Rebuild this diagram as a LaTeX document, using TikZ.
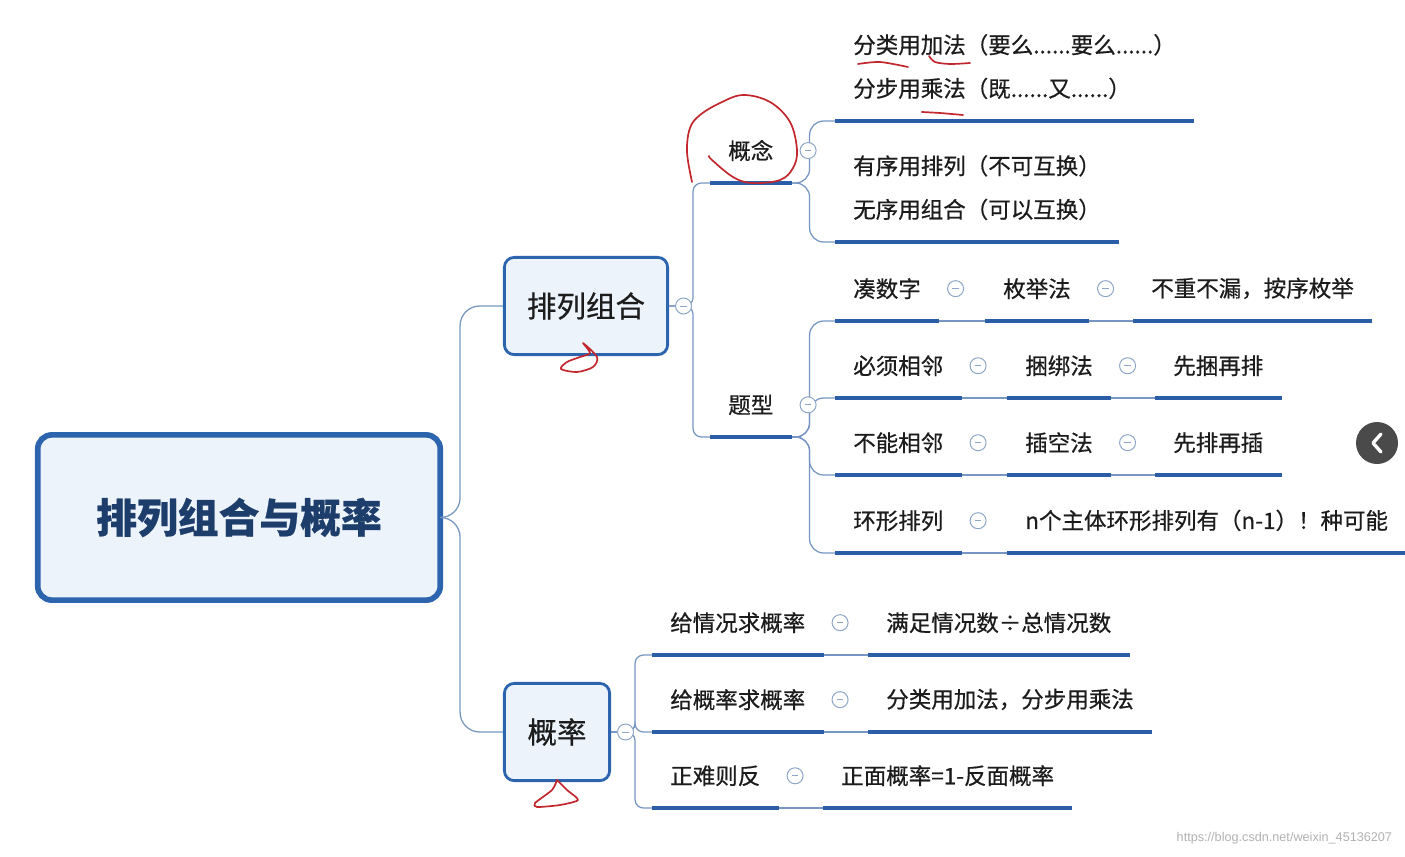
\documentclass[tikz,border=0pt]{standalone}
\usepackage{fontspec}
\setmainfont{Noto Sans CJK SC}[FakeBold=0.6]
\setsansfont{Liberation Sans}
\usetikzlibrary{calc,positioning}
\definecolor{ink}{HTML}{1C1C1C}
\definecolor{navy}{HTML}{1D3D6B}
\definecolor{frame}{HTML}{2C64AE}
\definecolor{wash}{HTML}{EDF3FA}
\definecolor{barblue}{HTML}{2B5EA6}
\definecolor{twigblue}{HTML}{7797C2}
\definecolor{foldgray}{HTML}{8DA6C8}
\definecolor{redpen}{HTML}{C1272D}
\definecolor{btngray}{HTML}{4A4A4A}
\tikzset{
  rootbox/.style={
    draw=frame,fill=wash,rounded corners=10pt,line width=4pt,
    minimum width=10.06cm,minimum height=4.13cm,inner sep=0pt,
    font=\bfseries\fontsize{29}{34}\selectfont,text=navy
  },
  subbox/.style={
    draw=frame,fill=wash,rounded corners=7pt,line width=2pt,
    minimum height=2.43cm,inner sep=0pt,
    font=\fontsize{21}{25}\selectfont,text=ink
  },
  topic/.style={
    anchor=south west,inner xsep=0.45cm,inner ysep=0.54cm,align=left,
    font=\fontsize{16}{31}\selectfont,text=ink
  },
  fold/.style={
    circle,draw=foldgray,fill=white,line width=0.7pt,
    minimum size=0.4cm,inner sep=0pt,
    path picture={\draw[foldgray,line width=0.7pt]
      ([xshift=-2.2pt]path picture bounding box.center) --
      ([xshift=2.2pt]path picture bounding box.center);}
  },
  bar/.style={draw=barblue,line width=3.5pt},
  twig/.style={draw=twigblue,line width=0.9pt,rounded corners=10pt},
  pen/.style={draw=redpen,line width=1.2pt,line cap=round,line join=round}
}
\begin{document}
\begin{tikzpicture}[x=0.025cm,y=-0.025cm]
\useasboundingbox[fill=white] (0,0) rectangle (1405,856);

\node[rootbox] (root) at (239,517.5) {排列组合与概率};
\node[subbox,minimum width=4.08cm] (pl) at (586,306) {排列组合};
\node[subbox,minimum width=2.63cm] (gl) at (557,732) {概率};

\node[topic] (gn) at (710,183) {概念};
\node[topic] (tx) at (710,437) {题型};

\node[topic] (c1) at (835,121) {分类用加法（要么......要么......）\\分步用乘法（既......又......）};
\node[topic] (c2) at (835,242) {有序用排列（不可互换）\\无序用组合（可以互换）};

\node[topic] (r1a) at (835,321) {凑数字};
\node[topic] (r1b) at (985,321) {枚举法};
\node[topic] (r1c) at (1133,321) {不重不漏，按序枚举};
\node[topic] (r2a) at (835,398) {必须相邻};
\node[topic] (r2b) at (1007,398) {捆绑法};
\node[topic] (r2c) at (1155,398) {先捆再排};
\node[topic] (r3a) at (835,475) {不能相邻};
\node[topic] (r3b) at (1007,475) {插空法};
\node[topic] (r3c) at (1155,475) {先排再插};
\node[topic] (r4a) at (835,553) {环形排列};
\node[topic] (r4b) at (1007,553) {n个主体环形排列有（n-1）！种可能};

\node[topic] (p1a) at (652,655) {给情况求概率};
\node[topic] (p1b) at (868,655) {满足情况数÷总情况数};
\node[topic] (p2a) at (652,732) {给概率求概率};
\node[topic] (p2b) at (868,732) {分类用加法，分步用乘法};
\node[topic] (p3a) at (652,808) {正难则反};
\node[topic] (p3b) at (823,808) {正面概率=1-反面概率};

% branches
\draw[twig,rounded corners=14pt] (root.east) -- ++(17,0) |- (pl.west);
\draw[twig,rounded corners=14pt] (root.east) -- ++(17,0) |- (gl.west);
\foreach \n in {gn,tx}
  \draw[twig,rounded corners=6pt] (pl.east) -- ++(24,0) |- (\n.south west);
\foreach \n in {c1,c2}
  \draw[twig] (gn.south east) -- ++(18,0) |- (\n.south west);
\foreach \n in {r1a,r2a,r3a,r4a}
  \draw[twig] (tx.south east) -- ++(18,0) |- (\n.south west);
\foreach \n in {p1a,p2a,p3a}
  \draw[twig,rounded corners=6pt] (gl.east) -- ++(24,0) |- (\n.south west);
\foreach \a/\b in {r1a/r1b,r1b/r1c,r2a/r2b,r2b/r2c,r3a/r3b,r3b/r3c,
                   r4a/r4b,p1a/p1b,p2a/p2b,p3a/p3b}
  \draw[twig] (\a.south east) -- (\b.south west);

\foreach \n in {gn,tx,c1,c2,r1a,r1b,r1c,r2a,r2b,r2c,r3a,r3b,r3c,
                r4a,r4b,p1a,p1b,p2a,p2b,p3a,p3b}
  \draw[bar] (\n.south west) -- (\n.south east);

\node[fold,right=0.15cm of pl] (plf) {};
\node[fold,right=0.15cm of gl] (glf) {};
\foreach \n in {gn,tx,r1a,r1b,r2a,r2b,r3a,r3b,r4a,p1a,p2a,p3a}
  \node[fold,right=0.2cm of \n] (\n f) {};

\draw[pen] plot[smooth,tension=0.6] coordinates {(709,156)(712,160)(733,177)(752,183)
  (780,180)(793,168)(797,150)(790,122)(770,102)(743,95)(720,103)(700,115)(690,128)
  (687,152)(692,182)};
\draw[pen] plot[smooth] coordinates {(858,64)(880,62)(908,67)};
\draw[pen] plot[smooth] coordinates {(929,56)(935,62)(950,64)(970,63)};
\draw[pen] plot[smooth] coordinates {(922,112)(940,113)(963,115)};
\draw[pen] plot[smooth cycle] coordinates {(583,343)(597,357)(593,367)(577,372)
  (561,369)(567,362)(580,357)(590,353)};
\draw[pen] plot[smooth,tension=0.4] coordinates {(557,780)(552,790)(535,803)(537,807)
  (560,805)(578,800)(567,790)(557,780)};

\node[circle,fill=btngray,minimum size=1.05cm,inner sep=0pt] (back) at (1377,443) {};
\draw[white,line width=2.4pt,line cap=round,line join=round]
  ($(back.center)+(4,-9)$) -- ($(back.center)+(-4,0)$) -- ($(back.center)+(4,9)$);

\node[anchor=east,font=\sffamily\fontsize{9}{11}\selectfont,text=black!30] (wm)
  at (1397,838) {https://blog.csdn.net/weixin\_45136207};

\end{tikzpicture}
\end{document}
